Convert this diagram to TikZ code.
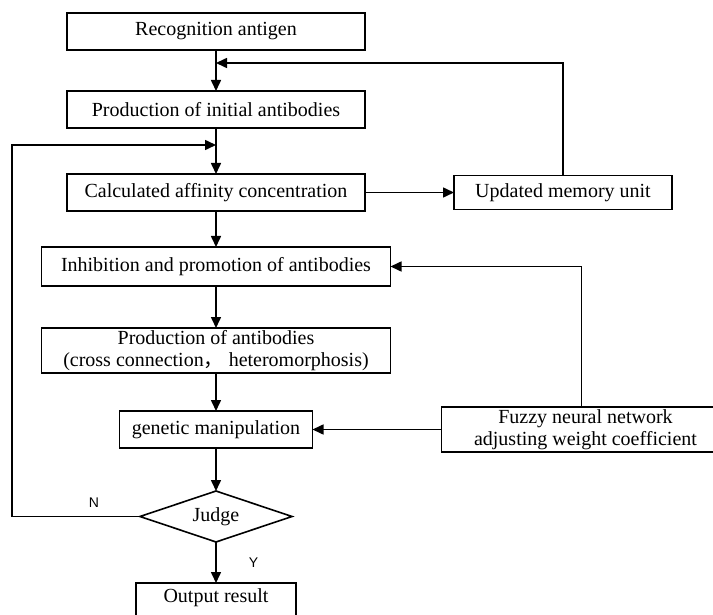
\documentclass[tikz,border=0pt]{standalone}
\usepackage{fontspec}
\setmainfont{Liberation Serif}
\newfontfamily\tagfont{Liberation Sans}
\newfontfamily\cjk{Noto Sans CJK SC}
\usetikzlibrary{shapes.geometric, arrows.meta, positioning, calc}

\begin{document}
\begin{tikzpicture}[
    node distance=20.5pt,
    block/.style={rectangle, draw=black, line width=0.8pt, text centered, minimum height=18.5pt, inner sep=1pt, outer sep=0pt, font=\fontsize{10}{11}\selectfont},
    decision/.style={diamond, draw=black, line width=0.8pt, aspect=3, minimum width=76pt, minimum height=25.5pt, inner sep=0pt, outer sep=0pt, font=\fontsize{10}{11}\selectfont},
    arrow/.style={-{Triangle[length=5.5pt, width=5pt]}, line width=0.8pt, color=black},
    tag/.style={inner sep=0pt, font=\tagfont\fontsize{7}{8}\selectfont}
]
    \path [use as bounding box, clip] (0,0) rectangle (356.5pt,-307.5pt);

    \node (antigen) [block, minimum width=149pt] at (108pt,-15.75pt) {Recognition antigen};
    \node (initial) [block, minimum width=149pt, below=20.5pt of antigen] {Production of initial antibodies};
    \node (affinity) [block, minimum width=149pt, below=23pt of initial] {Calculated affinity concentration};
    \node (memory) [block, minimum width=109pt, minimum height=17pt, right=44.5pt of affinity] {Updated memory unit};
    \node (inhibit) [block, minimum width=174.5pt, minimum height=19.5pt, below=18pt of affinity] {Inhibition and promotion of antibodies};
    \node (produce) [block, minimum width=174.5pt, minimum height=22.5pt, below=21pt of inhibit, align=center, inner sep=0pt] {Production of antibodies\\(cross connection{\cjk ，} heteromorphosis)};
    \node (genetic) [block, minimum width=96.5pt, below=19pt of produce] {genetic manipulation};
    \node (fuzzy) [block, minimum width=144pt, minimum height=22.5pt, right=64.5pt of genetic, align=center, inner sep=0pt] {Fuzzy neural network\\adjusting weight coefficient};
    \node (judge) [decision, below=21.5pt of genetic] {Judge};
    \node (output) [block, minimum width=80pt, text height=7pt, text depth=6pt, below=20.5pt of judge] {Output result};

    % entry points of the two feedback loops
    \coordinate (memin) at ($(antigen.south)+(0,-6.5pt)$);
    \coordinate (loopin) at ($(initial.south)+(0,-8.5pt)$);

    \draw [arrow] (antigen) -- (initial);
    \draw [arrow] (initial) -- (affinity);
    \draw [arrow] (affinity) -- (memory);
    \draw [arrow] (affinity) -- (inhibit);
    \draw [arrow] (inhibit) -- (produce);
    \draw [arrow] (produce) -- (genetic);
    \draw [arrow] (genetic) -- (judge);
    \draw [arrow] (judge) -- node[tag, right=16pt] {Y} (output);
    \draw [arrow] (memory.north) |- (memin);
    \draw [arrow] (judge.west) -- node[tag, pos=0.36, above=4pt] {N} ++(-64pt,0) |- (loopin);
    \draw [arrow] ([xshift=-2pt]fuzzy.north) |- (inhibit.east);
    \draw [arrow] (fuzzy) -- (genetic);
\end{tikzpicture}
\end{document}
